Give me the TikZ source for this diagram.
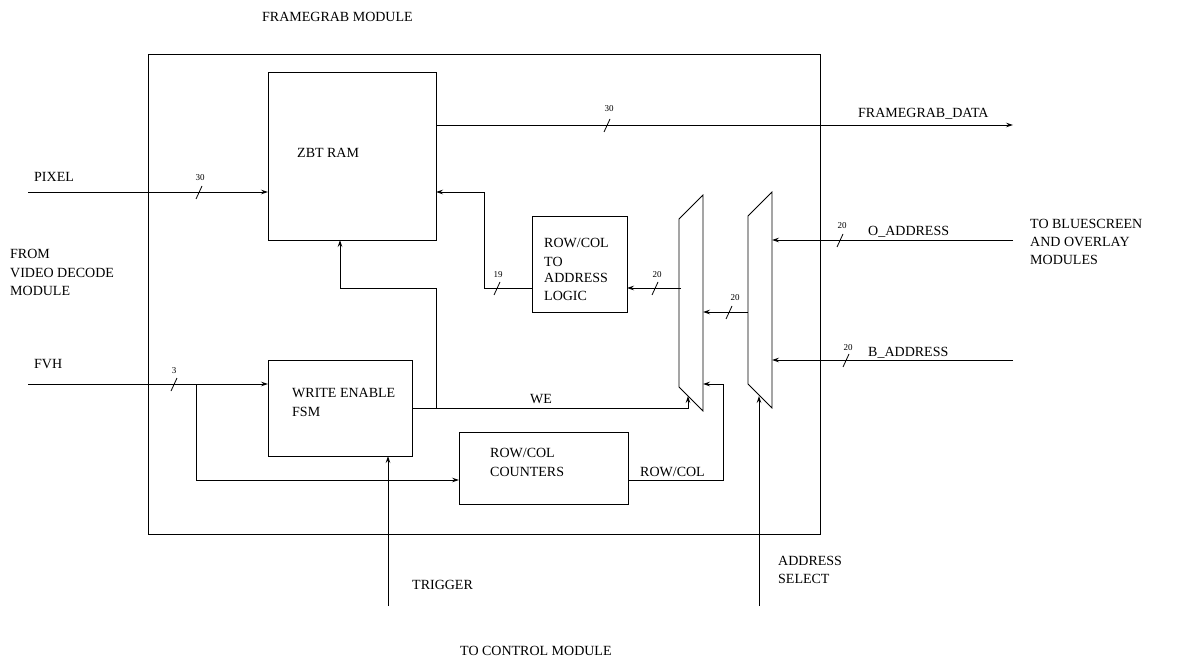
\documentclass[tikz,border=0pt]{standalone}
\usepackage{fontspec}
\setmainfont{Liberation Serif}
\usetikzlibrary{arrows.meta}
\begin{document}
\begin{tikzpicture}[x=1pt,y=-1pt,
  sig/.style={line width=0.8pt, -{Stealth[length=7pt,width=4.5pt,inset=2.5pt]}},
  ln/.style={line width=0.8pt},
  box/.style={draw, line width=0.8pt, anchor=north west, inner sep=0pt, outer sep=0pt},
  lbl/.style={anchor=base west, inner sep=0pt, font=\fontsize{14}{17}\selectfont},
  num/.style={anchor=base, inner sep=0pt, font=\fontsize{9}{10}\selectfont},
  slash/.pic={\draw[line width=0.8pt] (-3,7) -- (3,-6);}]
\useasboundingbox (0,0) rectangle (1180,660);

% boxes
\node[box, minimum width=672pt, minimum height=480pt] (frame) at (148,54) {};
\node[box, minimum width=168pt, minimum height=168pt] (zbt) at (268,72) {};
\node[box, minimum width=95pt, minimum height=96pt] (rcl) at (532,216) {};
\node[box, minimum width=144pt, minimum height=96pt] (fsm) at (268,360) {};
\node[box, minimum width=169pt, minimum height=72pt] (cnt) at (459,432) {};

% muxes
\coordinate (m1a) at (679,219); \coordinate (m1b) at (703,195);
\coordinate (m1c) at (703,411); \coordinate (m1d) at (679,387);
\draw[ln] (m1a) -- (m1b) -- (m1c) -- (m1d) -- cycle;
\coordinate (m2a) at (748,216); \coordinate (m2b) at (772,192);
\coordinate (m2c) at (772,408); \coordinate (m2d) at (748,384);
\draw[ln] (m2a) -- (m2b) -- (m2c) -- (m2d) -- cycle;

% free ends and junctions
\coordinate (pixin) at (28,192);
\coordinate (fgd) at (1013,125);
\coordinate (j19) at (484,288);
\coordinate (m1o) at (681,288);
\coordinate (m2o) at (748,312);
\coordinate (oa) at (1013,240);
\coordinate (ba) at (1013,360);
\coordinate (we1) at (688,408);
\coordinate (we2) at (688,396);
\coordinate (br) at (436,408);
\coordinate (wb) at (436,288);
\coordinate (wc) at (340,288);
\coordinate (fvh) at (28,384);
\coordinate (fb) at (196,384);
\coordinate (fb2) at (196,480);
\coordinate (rc1) at (723,480);
\coordinate (rc2) at (723,384);
\coordinate (trg) at (388,606);
\coordinate (asel) at (759,606);
\coordinate (asel2) at (759,396);

% connectors
\draw[sig] (pixin) -- (pixin -| zbt.west);
\draw[sig] (fgd -| zbt.east) -- (fgd);
\draw[sig] (j19 -| rcl.west) -- (j19) -- (j19 |- pixin) -- (pixin -| zbt.east);
\draw[sig] (m1o) -- (m1o -| rcl.east);
\draw[sig] (m2o) -- (m2o -| m1b);
\draw[sig] (oa) -- (oa -| m2b);
\draw[sig] (ba) -- (ba -| m2b);
\draw[sig] (fsm.east) -- (we1) -- (we2);
\draw[sig] (br) -- (wb) -- (wc) -- (wc |- zbt.south);
\draw[sig] (fvh) -- (fvh -| fsm.west);
\draw[sig] (fb) -- (fb2) -- (fb2 -| cnt.west);
\draw[sig] (fb2 -| cnt.east) -- (rc1) -- (rc2) -- (rc2 -| m1b);
\draw[sig] (trg) -- (trg |- fsm.south);
\draw[sig] (asel) -- (asel2);

% bus width marks
\pic at (199,192) {slash}; \node[num] (n1) at (200,181) {30};
\pic at (607,125) {slash}; \node[num] (n2) at (609,112) {30};
\pic at (497,288) {slash}; \node[num] (n3) at (498,278) {19};
\pic at (655,288) {slash}; \node[num] (n4) at (657,278) {20};
\pic at (729,312) {slash}; \node[num] (n5) at (735,301) {20};
\pic at (840,240) {slash}; \node[num] (n6) at (842,229) {20};
\pic at (846,360) {slash}; \node[num] (n7) at (848,350) {20};
\pic at (174,384) {slash}; \node[num] (n8) at (174,373) {3};

% labels
\node[lbl] (t1) at (262,22) {FRAMEGRAB MODULE};
\node[lbl] (t2) at (34,182) {PIXEL};
\node[lbl] (t3) at (297,158) {ZBT RAM};
\node[lbl] (t4) at (858,118) {FRAMEGRAB\_DATA};
\node[lbl] (t5a) at (10,259) {FROM};
\node[lbl] (t5b) at (10,277) {VIDEO DECODE};
\node[lbl] (t5c) at (10,295) {MODULE};
\node[lbl] (t6) at (34,368) {FVH};
\node[lbl] (t7a) at (292,397) {WRITE ENABLE};
\node[lbl] (t7b) at (292,416) {FSM};
\node[lbl] (t8a) at (544,248) {ROW/COL};
\node[lbl] (t8b) at (544,266) {TO};
\node[lbl] (t8c) at (544,283) {ADDRESS};
\node[lbl] (t8d) at (544,301) {LOGIC};
\node[lbl] (t9) at (530,403) {WE};
\node[lbl] (t10a) at (490,457) {ROW/COL};
\node[lbl] (t10b) at (490,476) {COUNTERS};
\node[lbl] (t11) at (640,476) {ROW/COL};
\node[lbl] (t12) at (412,589) {TRIGGER};
\node[lbl] (t13a) at (778,565) {ADDRESS};
\node[lbl] (t13b) at (778,583) {SELECT};
\node[lbl] (t14) at (460,655) {TO CONTROL MODULE};
\node[lbl] (t15) at (868,236) {O\_ADDRESS};
\node[lbl] (t16) at (868,356) {B\_ADDRESS};
\node[lbl] (t17a) at (1030,229) {TO BLUESCREEN};
\node[lbl] (t17b) at (1030,247) {AND OVERLAY};
\node[lbl] (t17c) at (1030,265) {MODULES};
\end{tikzpicture}
\end{document}
